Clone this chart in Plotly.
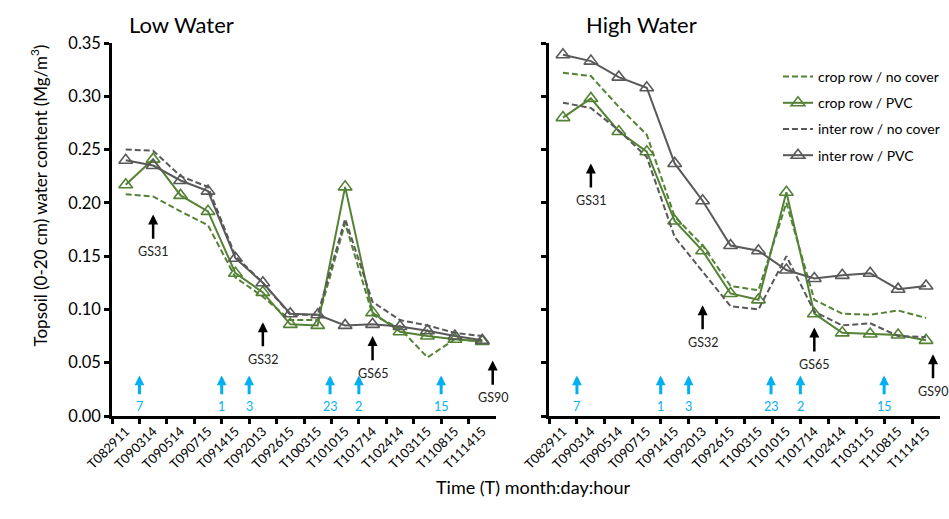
import plotly.graph_objects as go

W, H = 949, 519
OX, OY = 0, 0  # body margin removed via post_script

categories = ["T082911", "T090314", "T090514", "T090715", "T091415", "T092013", "T092615",
              "T100315", "T101015", "T101714", "T102414", "T103115", "T110815", "T111415"]

# Low water
low_crop_nocover = [0.208, 0.206, 0.192, 0.179, 0.130, 0.112, 0.090, 0.090, 0.181, 0.095, 0.082, 0.055, 0.072, 0.070]
low_crop_pvc     = [0.217, 0.241, 0.207, 0.192, 0.134, 0.116, 0.086, 0.085, 0.215, 0.097, 0.079, 0.075, 0.072, 0.070]
low_inter_nocover= [0.250, 0.249, 0.225, 0.215, 0.150, 0.125, 0.095, 0.095, 0.185, 0.107, 0.090, 0.085, 0.078, 0.075]
low_inter_pvc    = [0.240, 0.235, 0.221, 0.211, 0.148, 0.125, 0.096, 0.095, 0.085, 0.086, 0.084, 0.080, 0.075, 0.071]

# High water
high_crop_nocover = [0.322, 0.319, 0.290, 0.264, 0.187, 0.160, 0.122, 0.118, 0.200, 0.109, 0.096, 0.095, 0.099, 0.092]
high_crop_pvc     = [0.280, 0.298, 0.267, 0.248, 0.183, 0.155, 0.115, 0.109, 0.210, 0.096, 0.078, 0.077, 0.076, 0.071]
high_inter_nocover= [0.294, 0.289, 0.268, 0.243, 0.168, 0.135, 0.103, 0.100, 0.150, 0.098, 0.085, 0.087, 0.075, 0.074]
high_inter_pvc    = [0.339, 0.333, 0.318, 0.308, 0.237, 0.202, 0.160, 0.155, 0.137, 0.129, 0.132, 0.134, 0.119, 0.122]

series_names = ["crop row / no cover", "crop row / PVC", "inter row / no cover", "inter row / PVC"]

# Growth stage annotations: label, category position, arrow tip value
gs_labels = ["GS31", "GS32", "GS65", "GS90"]
gs_pos_low = [1, 5, 9, 13.38]
gs_tip_low = [0.189, 0.088, 0.075, 0.052]
gs_pos_high = [1, 5, 9, 13.25]
gs_tip_high = [0.237, 0.104, 0.083, 0.058]

# Irrigation events (mm)
irr_labels = ["7", "1", "3", "23", "2", "15"]
irr_pos = [0.5, 3.5, 4.5, 7.45, 8.5, 11.5]

GREEN = "#548235"
GRAY = "#595959"
BLUE = "#00B0F0"
FONT = "Lato"


def px(x):
    return (x - OX) / W


def py(y):
    return 1 - (y - OY) / H


styles = [
    dict(color=GREEN, dash="6px,3px", marker=False),
    dict(color=GREEN, dash="solid", marker=True),
    dict(color=GRAY, dash="6px,3px", marker=False),
    dict(color=GRAY, dash="solid", marker=True),
]

fig = go.Figure()

panels = [
    ("x", "y", [low_crop_nocover, low_crop_pvc, low_inter_nocover, low_inter_pvc], False),
    ("x2", "y2", [high_crop_nocover, high_crop_pvc, high_inter_nocover, high_inter_pvc], True),
]
for xa, ya, data, showleg in panels:
    for name, vals, st in zip(series_names, data, styles):
        fig.add_trace(go.Scatter(
            x=categories, y=vals, name=name, xaxis=xa, yaxis=ya,
            mode="lines+markers" if st["marker"] else "lines",
            line=dict(color=st["color"], width=2, dash=st["dash"]),
            marker=dict(symbol="triangle-up-open", size=12, color=st["color"],
                        line=dict(width=1.6, color=st["color"])),
            showlegend=showleg, legendgroup=name,
        ))

axis_common = dict(showline=True, linecolor="black", linewidth=2.5, ticks="outside",
                   ticklen=5, tickwidth=2.5, tickcolor="black", showgrid=False, zeroline=False,
                   automargin=False)

fig.update_layout(
    width=W, height=H, margin=dict(l=0, r=0, t=0, b=0, autoexpand=False),
    plot_bgcolor="white", paper_bgcolor="white",
    font=dict(family=FONT, color="black"),
    xaxis=dict(domain=[px(112), px(496)], type="category", tickson="boundaries",
               range=[-0.5, 13.5], tickangle=-45, tickfont=dict(size=13), anchor="y", **axis_common),
    xaxis2=dict(domain=[px(549), px(940)], type="category", tickson="boundaries",
                range=[-0.5, 13.5], tickangle=-45, tickfont=dict(size=13), anchor="y2", **axis_common),
    yaxis=dict(domain=[py(416), py(43)], range=[0, 0.35], dtick=0.05, tickformat=".2f",
               tickfont=dict(size=16.5), anchor="x", **axis_common),
    yaxis2=dict(domain=[py(416), py(43)], range=[0, 0.35], dtick=0.05, showticklabels=False,
                anchor="x2", **axis_common),
    legend=dict(x=px(778), y=py(61), xanchor="left", yanchor="top", bgcolor="rgba(0,0,0,0)",
                font=dict(size=14, family=FONT), tracegroupgap=5, itemwidth=30),
)

ann = []
# panel titles
ann.append(dict(text="Low Water", x=px(127), y=py(25), xref="paper", yref="paper",
                xanchor="left", yanchor="middle", showarrow=False, font=dict(size=22)))
ann.append(dict(text="High Water", x=px(584), y=py(25), xref="paper", yref="paper",
                xanchor="left", yanchor="middle", showarrow=False, font=dict(size=22)))
# axis titles
ann.append(dict(text="Topsoil (0-20 cm) water content (Mg/m<sup>3</sup>)", x=px(25), y=py(196),
                xref="paper", yref="paper", textangle=-90, showarrow=False, font=dict(size=17)))
ann.append(dict(text="Time (T) month:day:hour", x=px(533), y=py(500), xref="paper", yref="paper",
                showarrow=False, font=dict(size=18)))

gs_len = 0.024
gs_gap = 0.011
for xa, ya, pos, tips in [("x", "y", gs_pos_low, gs_tip_low), ("x2", "y2", gs_pos_high, gs_tip_high)]:
    for lab, p, t in zip(gs_labels, pos, tips):
        ann.append(dict(x=p, y=t, ax=p, ay=t - gs_len, xref=xa, yref=ya, axref=xa, ayref=ya,
                        text="", showarrow=True, arrowhead=2, arrowsize=0.8, arrowwidth=2.5,
                        arrowcolor="black"))
        ann.append(dict(x=p, y=t - gs_len - gs_gap, xref=xa, yref=ya, text=lab, showarrow=False,
                        font=dict(size=12.5, color="#222222")))
    for lab, p in zip(irr_labels, irr_pos):
        ann.append(dict(x=p, y=0.038, ax=p, ay=0.019, xref=xa, yref=ya, axref=xa, ayref=ya,
                        text="", showarrow=True, arrowhead=2, arrowsize=0.65, arrowwidth=3,
                        arrowcolor=BLUE))
        ann.append(dict(x=p, y=0.009, xref=xa, yref=ya, text=lab, showarrow=False,
                        font=dict(size=12.5, color=BLUE)))

fig.update_layout(annotations=ann)
fig.write_html("out.html", config={"displayModeBar": False},
               post_script="document.body.style.margin='0';document.body.style.overflow='hidden';")
